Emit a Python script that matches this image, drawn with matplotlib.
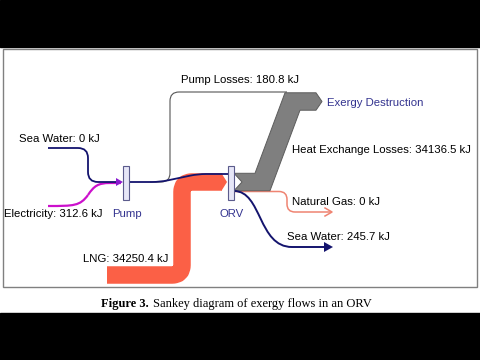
import matplotlib
matplotlib.use("Agg")
import matplotlib.pyplot as plt
from matplotlib.path import Path
from matplotlib.patches import PathPatch, Polygon, Rectangle
import numpy as np

# flows in kJ
in_names = ['Sea Water', 'Electricity', 'LNG']
in_values = [0, 312.6, 34250.4]
out_names = ['Pump Losses', 'Heat Exchange Losses', 'Natural Gas', 'Sea Water']
out_values = [180.8, 34136.5, 0, 245.7]
node_names = ['Pump', 'ORV']
sink_name = 'Exergy Destruction'
caption_bold = 'Figure 3.'
caption_text = 'Sankey diagram of exergy flows in an ORV'

PX_PER_KJ = 17.5 / 34250.4   # big band about 17.5 px wide
NAVY = '#14146e'
LABEL_BLUE = '#33338f'


def lbl(name, v):
    return f"{name}: {v:g} kJ"


def rounded(points, r):
    # polyline with rounded corners
    pts = [np.array(p, float) for p in points]
    verts = [pts[0]]
    codes = [Path.MOVETO]
    for i in range(1, len(pts) - 1):
        a, p, b = pts[i - 1], pts[i], pts[i + 1]
        d1 = (p - a) / np.linalg.norm(p - a)
        d2 = (b - p) / np.linalg.norm(b - p)
        verts += [p - r * d1, p, p + r * d2]
        codes += [Path.LINETO, Path.CURVE3, Path.CURVE3]
    verts.append(pts[-1])
    codes.append(Path.LINETO)
    return Path(verts, codes)


def bez(p0, c1, c2, p1, tail=None):
    verts = [p0, c1, c2, p1]
    codes = [Path.MOVETO, Path.CURVE4, Path.CURVE4, Path.CURVE4]
    if tail is not None:
        verts.append(tail)
        codes.append(Path.LINETO)
    return Path(verts, codes)


def stroke(ax, path, color, lw, z=3):
    ax.add_patch(PathPatch(path, fill=False, edgecolor=color, lw=lw,
                           capstyle='butt', joinstyle='round', zorder=z))


fig = plt.figure(figsize=(4.8, 3.6), dpi=100)
ax = fig.add_axes([0, 0, 1, 1])
ax.set_xlim(0, 480)
ax.set_ylim(360, 0)
ax.axis('off')

# letterbox bars and frame
ax.add_patch(Rectangle((0, 0), 480, 47, color='black', zorder=0))
ax.add_patch(Rectangle((0, 313), 480, 47, color='black', zorder=0))
ax.add_patch(Rectangle((3, 49), 474, 238, fill=False, edgecolor='#808080', lw=1, zorder=1))

plt.rcParams['font.family'] = ['Liberation Sans', 'DejaVu Sans']
fs = 8.2

w_lng = in_values[2] * PX_PER_KJ
w_hx = out_values[1] * PX_PER_KJ

# LNG band
stroke(ax, rounded([(107, 275), (182, 275), (182, 182), (222, 182)], 10),
       '#fb6046', w_lng * 0.72, z=2)
ax.add_patch(Polygon([(221.5, 182 - w_lng / 2), (227, 182), (221.5, 182 + w_lng / 2)],
                     closed=True, color='#fb6046', lw=0, zorder=2))

# heat exchange losses -> exergy destruction
yb, yt = 182, 101.5
h = w_hx / 2
gray = [(234, yb - h), (255, yb - h), (285, yt - h), (316, yt - h), (322, yt),
        (316, yt + h), (300, yt + h), (270, yb + h), (234, yb + h), (242, yb)]
ax.add_patch(Polygon(gray, closed=True, facecolor='#7f7f7f', edgecolor='#5c5c5c',
                     lw=0.7, zorder=2))

# pump losses line
stroke(ax, rounded([(150, 182), (170, 182), (170, 92), (287, 92)], 9), '#555555', 0.8)

# inputs to pump
stroke(ax, rounded([(48, 148), (88, 148), (88, 182), (121, 182)], 10), NAVY, 1.3, z=4)
stroke(ax, bez((48, 206), (74, 206), (80, 206), (88, 195)), '#cc10cc', 1.6, z=3)
stroke(ax, bez((88, 195), (94, 186), (98, 183), (110, 183), (121, 183)), '#cc10cc', 1.6, z=3)
ax.add_patch(Polygon([(116, 178), (123, 182), (116, 186)], closed=True,
                     color='#8a1ad0', lw=0, zorder=5))

# pump -> ORV
stroke(ax, rounded([(129, 182), (160, 182), (198, 174), (228, 174)], 8), NAVY, 1.3, z=4)

# ORV outputs
stroke(ax, rounded([(234, 191.5), (287, 191.5), (287, 212), (331, 212)], 8), '#ef8472', 1.1, z=1)
ax.plot([325, 332, 325], [208, 212, 216], color='#ef8472', lw=1.1, zorder=3)
stroke(ax, bez((234, 191), (262, 191), (258, 247), (292, 247), (326, 247)), NAVY, 1.4, z=3)
ax.add_patch(Polygon([(324, 242), (333, 247), (324, 252)], closed=True,
                     color=NAVY, lw=0, zorder=3))

# nodes
for x, name in zip([123, 228], node_names):
    ax.add_patch(Rectangle((x, 166), 6, 34, facecolor='#e6e6f7', edgecolor='#5b5b8c',
                           lw=0.8, zorder=6))
    ax.text(x + 4, 214, name, ha='center', va='center', fontsize=fs, color=LABEL_BLUE)

# labels
ax.text(19, 139, lbl(in_names[0], in_values[0]), fontsize=fs, va='center')
ax.text(4, 214, lbl(in_names[1], in_values[1]), fontsize=fs, va='center')
ax.text(83, 259, lbl(in_names[2], in_values[2]), fontsize=fs, va='center', zorder=5)
ax.text(181, 80, lbl(out_names[0], out_values[0]), fontsize=fs, va='center')
ax.text(292, 150, lbl(out_names[1], out_values[1]), fontsize=fs, va='center')
ax.text(292, 202, lbl(out_names[2], out_values[2]), fontsize=fs, va='center')
ax.text(287, 237, lbl(out_names[3], out_values[3]), fontsize=fs, va='center')
ax.text(327, 103, sink_name, fontsize=fs, va='center', color=LABEL_BLUE)

# caption
ax.text(149, 304, caption_bold, ha='right', va='center', fontsize=9,
        family='Liberation Serif', weight='bold')
ax.text(153, 304, caption_text, ha='left', va='center', fontsize=9,
        family='Liberation Serif')

fig.savefig('out.png', dpi=100, facecolor='white')
